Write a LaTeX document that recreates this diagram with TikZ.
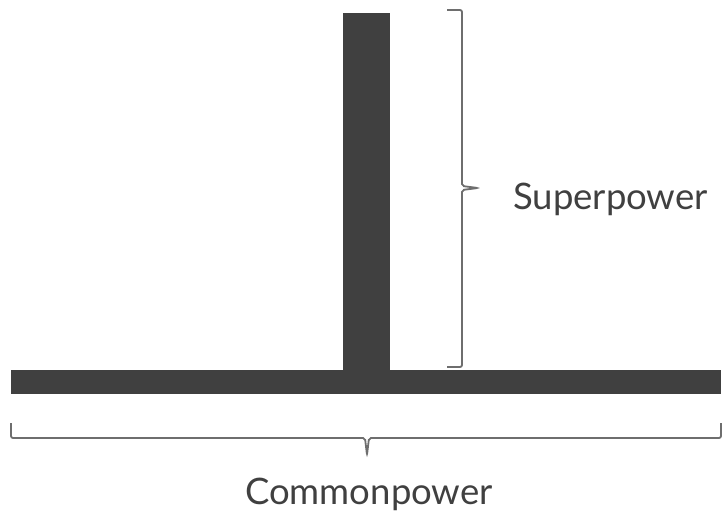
\documentclass[tikz,border=0pt]{standalone}
\usepackage{fontspec}
\setmainfont{Lato}
\definecolor{barfill}{HTML}{404040}
\definecolor{bracegray}{HTML}{6E6E6E}
\begin{document}
\begin{tikzpicture}[x=1pt,y=-1pt,
  bar/.style={fill=barfill,draw=none},
  bracket/.style={draw=bracegray,line width=1.8pt,rounded corners=2pt},
  lbl/.style={font=\fontsize{36.5}{40}\selectfont,text=barfill,inner sep=0pt}]
\useasboundingbox (0,0) rectangle (723,513);
% the two bars
\fill[bar] (11,370) rectangle (721,394);
\fill[bar] (343,13) rectangle (390,372);
% brace beside the upright bar
\coordinate (rtip) at (478,188);
\draw[bracket] (447,10) -- (462,10) -- (462,186) -- (rtip) -- (462,190) -- (462,367) -- (447,367);
% brace under the horizontal bar
\coordinate (btip) at (367,455);
\draw[bracket] (11,423) -- (11,438) -- (365,438) -- (btip) -- (369,438) -- (721,438) -- (721,423);
% labels
\node[lbl,anchor=west] (sup) at (513,199) {Superpower};
\node[lbl] (com) at (369,494) {Commonpower};
\end{tikzpicture}
\end{document}
